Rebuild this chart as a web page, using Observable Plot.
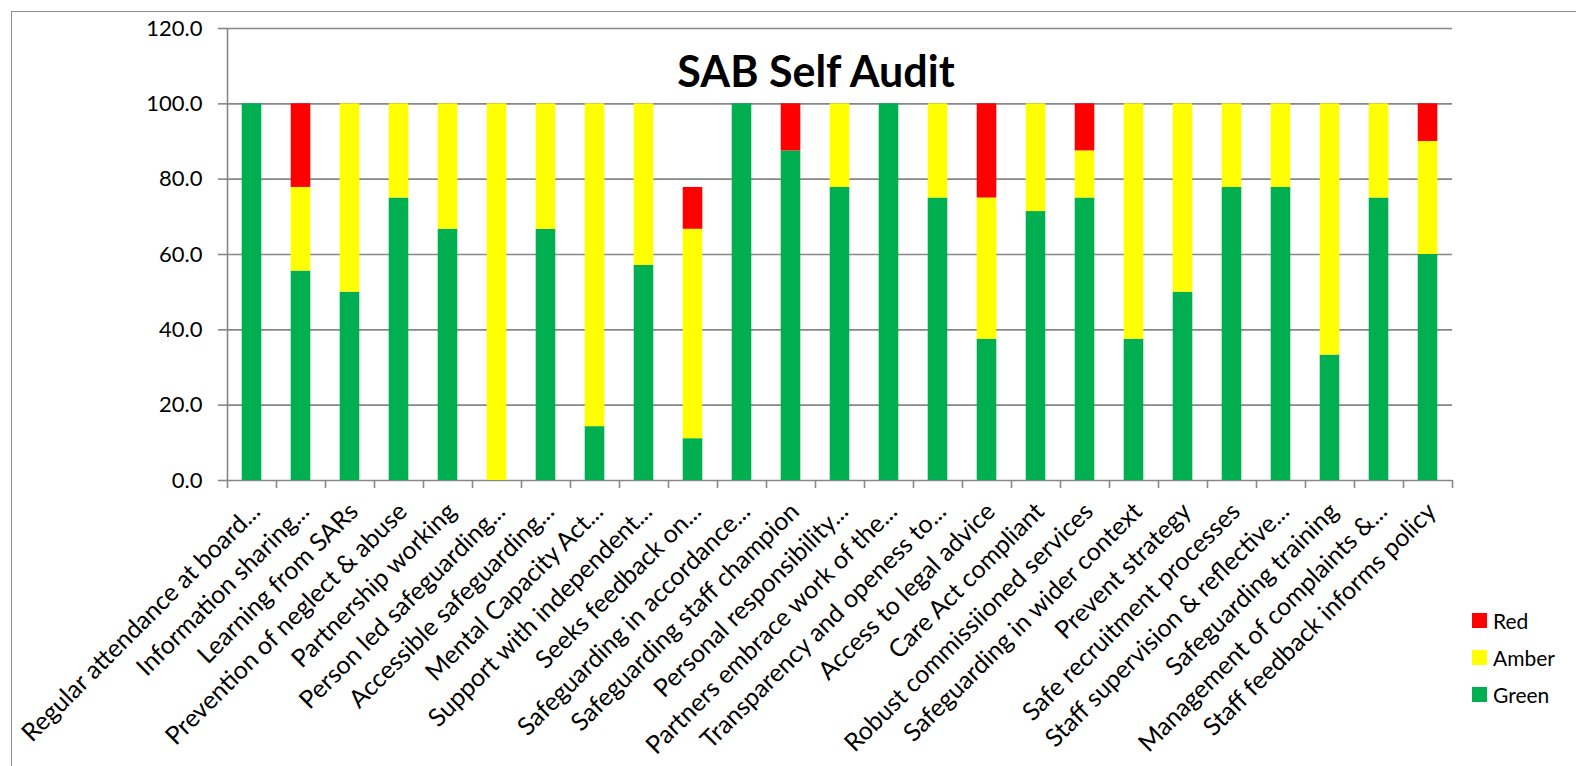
<!DOCTYPE html>
<html>
<head>
<meta charset="utf-8">
<script src="https://cdn.jsdelivr.net/npm/d3@7"></script>
<script src="https://cdn.jsdelivr.net/npm/@observablehq/plot@0.6"></script>
<style>
  html, body { margin: 0; padding: 0; background: #fff; overflow: hidden; }
  #wrap { position: relative; width: 1576px; height: 766px; overflow: hidden; font-family: Lato, "Open Sans", sans-serif; }
  #frame { position: absolute; left: 11px; top: 11px; width: 1600px; height: 800px; border: 1.5px solid #8c8c8c; box-sizing: border-box; }
  #chart { position: absolute; left: 0; top: 0; }
  #title { position: absolute; left: 0; width: 1632px; top: 49px; text-align: center; font-weight: bold; font-size: 43px; line-height: 1; color: #000; }
  #legend { position: absolute; left: 1472px; top: 602px; font-size: 21px; color: #000; }
  #legend .row { display: flex; align-items: center; height: 37px; }
  #legend .sw { width: 15px; height: 15px; margin-right: 6px; }
</style>
</head>
<body>
<div id="wrap">
  <div id="frame"></div>
  <div id="chart"></div>
  <div id="title">SAB Self Audit</div>
  <div id="legend"></div>
</div>
<script>
const categories = [
  "Regular attendance at board...",
  "Information sharing...",
  "Learning from SARs",
  "Prevention of neglect & abuse",
  "Partnership working",
  "Person led safeguarding...",
  "Accessible safeguarding...",
  "Mental Capacity Act...",
  "Support with independent...",
  "Seeks feedback on...",
  "Safeguarding in accordance...",
  "Safeguarding staff champion",
  "Personal responsibility...",
  "Partners embrace work of the...",
  "Transparency and openess to...",
  "Access to legal advice",
  "Care Act compliant",
  "Robust commissiioned services",
  "Safeguarding in wider context",
  "Prevent strategy",
  "Safe recruitment processes",
  "Staff supervision & reflective...",
  "Safeguarding training",
  "Management of complaints &...",
  "Staff feedback informs policy"
];
const green = [100, 55.6, 50, 75, 66.7, 0, 66.7, 14.3, 57.1, 11.1, 100, 87.5, 77.8, 100, 75, 37.5, 71.4, 75, 37.5, 50, 77.8, 77.8, 33.3, 75, 60];
const amber = [0, 22.2, 50, 25, 33.3, 100, 33.3, 85.7, 42.9, 55.6, 0, 0, 22.2, 0, 25, 37.5, 28.6, 12.5, 62.5, 50, 22.2, 22.2, 66.7, 25, 30];
const red   = [0, 22.2, 0, 0, 0, 0, 0, 0, 0, 11.1, 0, 12.5, 0, 0, 0, 25, 0, 12.5, 0, 0, 0, 0, 0, 0, 10];
const seriesNames = ["Green", "Amber", "Red"];
const seriesColors = ["#00B050", "#FFFF00", "#FF0000"];
const yTicks = [0, 20, 40, 60, 80, 100, 120];

const rows = [];
categories.forEach((c, i) => {
  rows.push({i, category: c, status: "Green", value: green[i]});
  rows.push({i, category: c, status: "Amber", value: amber[i]});
  rows.push({i, category: c, status: "Red", value: red[i]});
});

const gridColor = "#878787";
const font = "Lato, 'Open Sans', sans-serif";

const chart = Plot.plot({
  width: 1576,
  height: 766,
  marginLeft: 227,
  marginRight: 124,
  marginTop: 28,
  marginBottom: 286,
  style: {fontFamily: font, background: "transparent", color: "#000"},
  x: {domain: [0, categories.length], axis: null},
  y: {domain: [0, 120], axis: null},
  color: {domain: seriesNames, range: seriesColors},
  marks: [
    Plot.gridY(yTicks, {stroke: gridColor, strokeOpacity: 1, strokeWidth: 1.6}),
    Plot.rectY(rows, {x: "i", interval: 1, y: "value", fill: "status", insetLeft: 14.7, insetRight: 14.7}),
    Plot.ruleX([0], {stroke: gridColor, strokeWidth: 1.6}),
    Plot.axisY(yTicks, {anchor: "left", tickSize: 9, tickPadding: 16, tickFormat: d => d.toFixed(1), fontSize: 22, stroke: gridColor, strokeWidth: 1.6, strokeOpacity: 1, label: null}),
    Plot.axisX(d3.range(categories.length + 1), {anchor: "bottom", tickSize: 8, tickFormat: () => "", stroke: gridColor, strokeWidth: 1.6, strokeOpacity: 1, label: null}),
    Plot.axisX(d3.range(categories.length).map(i => i + 0.5), {anchor: "bottom", tickSize: 0, tickPadding: 27, dx: 4, tickRotate: -45, tickFormat: d => categories[Math.floor(d)], fontSize: 25, label: null})
  ]
});
document.getElementById("chart").appendChild(chart);

const legend = document.getElementById("legend");
["Red", "Amber", "Green"].forEach(name => {
  const row = document.createElement("div");
  row.className = "row";
  const sw = document.createElement("div");
  sw.className = "sw";
  sw.style.background = seriesColors[seriesNames.indexOf(name)];
  const lab = document.createElement("span");
  lab.textContent = name;
  row.appendChild(sw);
  row.appendChild(lab);
  legend.appendChild(row);
});
</script>
</body>
</html>
